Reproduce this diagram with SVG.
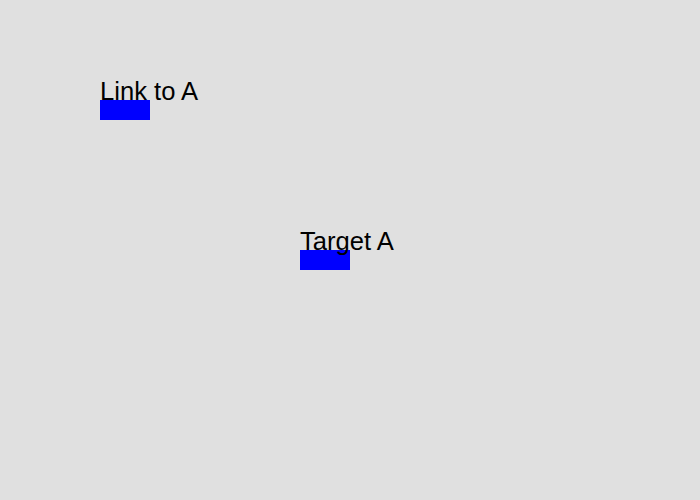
<svg xmlns="http://www.w3.org/2000/svg" width="700" height="500" viewBox="0 0 700 500">
<style>
.box{fill:#0000ff}
.lbl{font-family:"Liberation Sans",Arial,sans-serif;font-size:25.6px;fill:#000000}
</style>
<rect width="700" height="500" fill="#e0e0e0"/>
<g id="link-a">
<rect class="box" x="100" y="100" width="50" height="20"/>
<text class="lbl" x="100" y="100">Link to A</text>
</g>
<g id="target-a">
<rect class="box" x="300" y="250" width="50" height="20"/>
<text class="lbl" x="300" y="250">Target A</text>
</g>
<g id="connectors"></g>
</svg>
